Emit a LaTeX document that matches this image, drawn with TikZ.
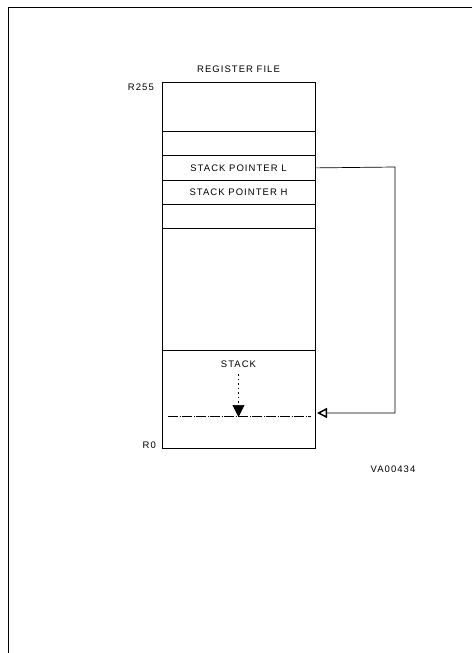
\documentclass[tikz,border=0pt]{standalone}
\usepackage{fontspec}
\setmainfont{Liberation Sans}
\usetikzlibrary{arrows.meta}
\begin{document}
\begin{tikzpicture}[x=1pt,y=-1pt,
  cell/.style={draw,line width=0.8pt,minimum width=153pt,inner sep=0pt,anchor=north,font=\lbl},
  lbl/.style={font=\lbl,inner sep=0pt}]
\newcommand\lbl{\fontsize{9.5}{11}\selectfont\addfontfeatures{LetterSpace=11}}
\useasboundingbox (0,0) rectangle (472,653);
\draw[line width=0.8pt] (472,7) -- (8,7) -- (8,653);
\node[lbl] (title) at (238.5,69) {REGISTER FILE};
\node[cell,minimum height=49pt] (c1) at (238.5,82) {};
\node[cell,minimum height=24pt] (c2) at (238.5,131) {};
\node[cell,minimum height=25pt] (spl) at (238.5,155) {STACK POINTER L};
\node[cell,minimum height=24pt] (sph) at (238.5,180) {STACK POINTER H};
\node[cell,minimum height=24pt] (c5) at (238.5,204) {};
\node[cell,minimum height=122pt] (c6) at (238.5,228) {};
\node[cell,minimum height=98pt] (stk) at (238.5,350) {};
\node[lbl] (stacklbl) at (238.5,364) {STACK};
\node[lbl,anchor=east] (r255) at (154,87) {R255};
\node[lbl,anchor=east] (r0) at (156,445) {R0};
\node[lbl] (va) at (393,469) {VA00434};
\coordinate (dl) at (168,416);
\coordinate (dr) at (311,416);
\draw[line width=0.5pt,dash pattern=on 10pt off 1.5pt on 1pt off 1.5pt] (dl) -- (dr);
\coordinate (ds) at (238.5,374);
\coordinate (de) at (238.5,417);
\draw[line width=0.7pt,dash pattern=on 1.5pt off 3pt,-{Triangle[length=12pt,width=12pt]}] (ds) -- (de);
\coordinate (tgt) at (317,413);
\draw[line width=0.7pt,-{Triangle[open,length=10pt,width=10pt,line width=1.5pt]}] (spl.east) -- (395,167) -- (395,413) -- (tgt);
\end{tikzpicture}
\end{document}
